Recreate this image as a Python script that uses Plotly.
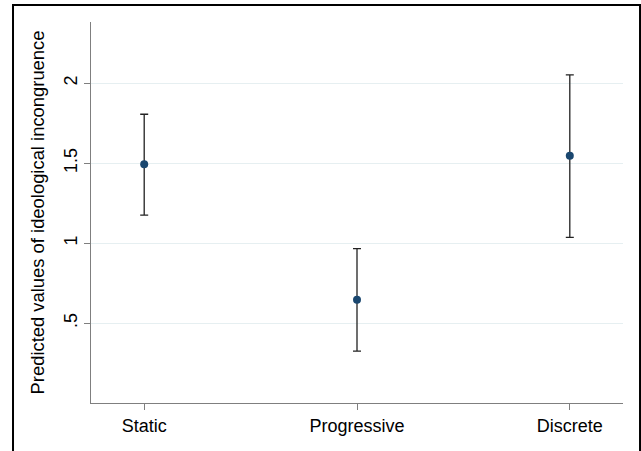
import plotly.graph_objects as go

categories = ["Static", "Progressive", "Discrete"]
positions = [1, 2, 3]
predicted = [1.494, 0.646, 1.546]
ci_low = [1.175, 0.325, 1.036]
ci_high = [1.806, 0.965, 2.052]
ytick_vals = [0.5, 1, 1.5, 2]
ytick_text = [".5", "1", "1.5", "2"]

err_plus = [h - p for h, p in zip(ci_high, predicted)]
err_minus = [p - l for p, l in zip(predicted, ci_low)]

fig = go.Figure()
fig.add_trace(go.Scatter(
    x=positions, y=predicted, mode="markers",
    marker=dict(size=8, color="#1a476f"),
    error_y=dict(type="data", symmetric=False, array=err_plus, arrayminus=err_minus,
                 color="#222222", thickness=1.3, width=4),
    showlegend=False,
))

font = "Liberation Sans, Arial, sans-serif"
fig.update_layout(
    width=641, height=451,
    margin=dict(l=91, r=18, t=22, b=48),
    paper_bgcolor="white", plot_bgcolor="white",
    font=dict(family=font, size=18, color="black"),
    xaxis=dict(
        range=[0.75, 3.25], tickvals=positions, ticktext=categories,
        showgrid=False, zeroline=False, automargin=False,
        showline=True, linecolor="#7f7f7f", linewidth=1,
        ticks="outside", ticklen=6, tickcolor="#7f7f7f",
        tickfont=dict(size=18, color="black"),
    ),
    yaxis=dict(
        range=[0, 2.383], tickvals=ytick_vals, ticktext=ytick_text,
        tickangle=-90, automargin=False,
        showgrid=True, gridcolor="#e6eff1", gridwidth=1, zeroline=False,
        showline=True, linecolor="#7f7f7f", linewidth=1,
        ticks="outside", ticklen=6, tickcolor="#7f7f7f",
        tickfont=dict(size=18, color="black"),
        title=dict(text="Predicted values of ideological incongruence",
                   font=dict(size=18.4, color="black"), standoff=11),
    ),
    shapes=[dict(type="rect", xref="paper", yref="paper",
                 x0=-0.1466, x1=1.032, y0=-0.2, y1=1.0446,
                 line=dict(color="black", width=2), fillcolor="rgba(0,0,0,0)")],
)

fig.write_html("out.html", config={"displayModeBar": False},
               post_script="document.body.style.margin='0';")
